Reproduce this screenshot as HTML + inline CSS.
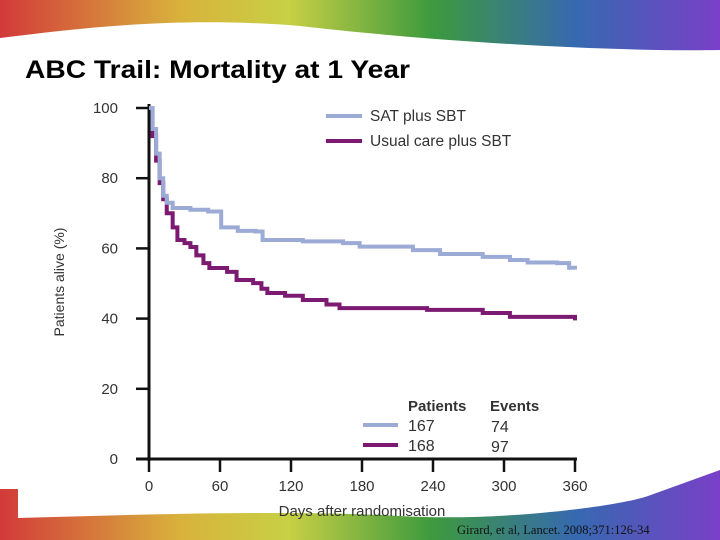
<!DOCTYPE html>
<html><head><meta charset="utf-8"><style>
html,body{margin:0;padding:0;background:#fff}
#wrap{position:relative;width:720px;height:540px;overflow:hidden;font-family:"Liberation Sans",sans-serif}
</style></head><body>
<div id="wrap">
<svg width="720" height="540" viewBox="0 0 720 540">
<defs>
<linearGradient id="rb" x1="0" x2="1" y1="0" y2="0">
<stop offset="0" stop-color="#d23a3a"/><stop offset="0.25" stop-color="#d9b23c"/><stop offset="0.4" stop-color="#c8d044"/><stop offset="0.6" stop-color="#3d9a3e"/><stop offset="0.8" stop-color="#3669b0"/><stop offset="1" stop-color="#7a3fc8"/>
</linearGradient>
</defs>
<path d="M0,0 H720 V50 C600,52 420,40 300,26 C180,16 80,28 0,38 Z" fill="url(#rb)"/>
<path d="M0,489 H18 V518 C150,514 300,510 400,516 C500,522 620,506 648,496 L720,470 V540 H0 Z" fill="url(#rb)"/>
<text x="25" y="78" font-size="25" font-weight="bold" fill="#000" textLength="385" lengthAdjust="spacingAndGlyphs">ABC Trail: Mortality at 1 Year</text>
<text x="457" y="534" font-family="Liberation Serif,serif" font-size="12.5" fill="#111">Girard, et al, Lancet. 2008;371:126-34</text>
<g id="axes"></g>
<g id="series"></g>
<g id="legend"></g>
</svg>
</div>
<script>
const xTicks=[0,60,120,180,240,300,360];
const yTicks=[0,20,40,60,80,100];
const satDays=[0,3,6,9,12,15,20,35,50,61,75,90,96,130,164,178,223,246,282,305,320,345,355,360];
const satVals=[100,94,87,80,75,73,71.5,71,70.5,66,65,64.8,62.4,62,61.5,60.5,59.5,58.4,57.6,56.7,56,55.8,54.5,54];
const ucDays=[0,3,6,9,12,15,20,24,30,35,40,46,51,66,74,88,95,100,115,130,150,161,235,282,305,355,360];
const ucVals=[100,92,85,78.6,74,70,66,62.4,61.5,60.4,58,55.8,54.4,53.3,51,50.1,48.5,47.3,46.5,45.3,44,43,42.5,41.6,40.5,40.5,39.5];
const sx=d=>149+d*(426/360);
const sy=v=>459-v*3.51;
const NS='http://www.w3.org/2000/svg';
function mk(tag,attrs,parent){const e=document.createElementNS(NS,tag);for(const k in attrs)e.setAttribute(k,attrs[k]);parent.appendChild(e);return e;}
const ax=document.getElementById('axes');
let l=mk('line',{x1:149,y1:104,x2:149,y2:461,stroke:'#111','stroke-width':3},ax);


l=mk('line',{x1:136,y1:459,x2:577,y2:459,stroke:'#111','stroke-width':3},ax);


yTicks.forEach(v=>{
 const t=mk('line',{x1:136,y1:sy(v),x2:149,y2:sy(v),stroke:'#111','stroke-width':2.5},ax);
 
 
 const tx=mk('text',{x:118,y:sy(v)+5,'text-anchor':'end','font-size':15,fill:'#333'},ax);
 tx.textContent=v;
 
 
});
xTicks.forEach(d=>{
 const t=mk('line',{x1:sx(d),y1:459,x2:sx(d),y2:472,stroke:'#111','stroke-width':2.5},ax);
 
 
 const tx=mk('text',{x:sx(d),y:491,'text-anchor':'middle','font-size':15,fill:'#333'},ax);
 tx.textContent=d;
 
 
});
let tt=mk('text',{x:362,y:516,'text-anchor':'middle','font-size':15,fill:'#333'},ax);
tt.textContent='Days after randomisation';


tt=mk('text',{x:0,y:0,transform:'translate(64,282) rotate(-90)','text-anchor':'middle','font-size':14,fill:'#333'},ax);
tt.textContent='Patients alive (%)';


function stepPath(days,vals){let d='M'+sx(days[0])+','+sy(vals[0]);for(let i=1;i<days.length;i++){d+=' H'+sx(days[i])+' V'+sy(vals[i]);}return d;}
const sg=document.getElementById('series');
let p=mk('path',{d:stepPath(ucDays,ucVals),fill:'none',stroke:'#7b1a70','stroke-width':4},sg);


p=mk('path',{d:stepPath(satDays,satVals),fill:'none',stroke:'#9babd5','stroke-width':4},sg);


const lg=document.getElementById('legend');
function entry(y,color,label,name){
 const ln=mk('line',{x1:326,y1:y,x2:362,y2:y,stroke:color,'stroke-width':4},lg);
 
 
 const t=mk('text',{x:370,y:y+5,'font-size':15.5,fill:'#333'},lg);
 t.textContent=label;
 
 
}
entry(116,'#9babd5','SAT plus SBT','legend-sat');
entry(141,'#7b1a70','Usual care plus SBT','legend-usual');
let h=mk('text',{x:408,y:411,'font-size':15,'font-weight':'bold',fill:'#333'},lg);
h.textContent='Patients';


h=mk('text',{x:490,y:411,'font-size':15,'font-weight':'bold',fill:'#333'},lg);
h.textContent='Events';


[[426,'#9babd5','167','74'],[446,'#7b1a70','168','97']].forEach((r,i)=>{
 const ln=mk('line',{x1:363,y1:r[0]-1,x2:398,y2:r[0]-1,stroke:r[1],'stroke-width':4},lg);
 
 
 const a=mk('text',{x:408,y:r[0]+5,'font-size':16,fill:'#333'},lg);
 a.textContent=r[2];
 
 
 const b=mk('text',{x:491,y:r[0]+6,'font-size':16,fill:'#333'},lg);
 b.textContent=r[3];
 
 
});
</script>
</body></html>
